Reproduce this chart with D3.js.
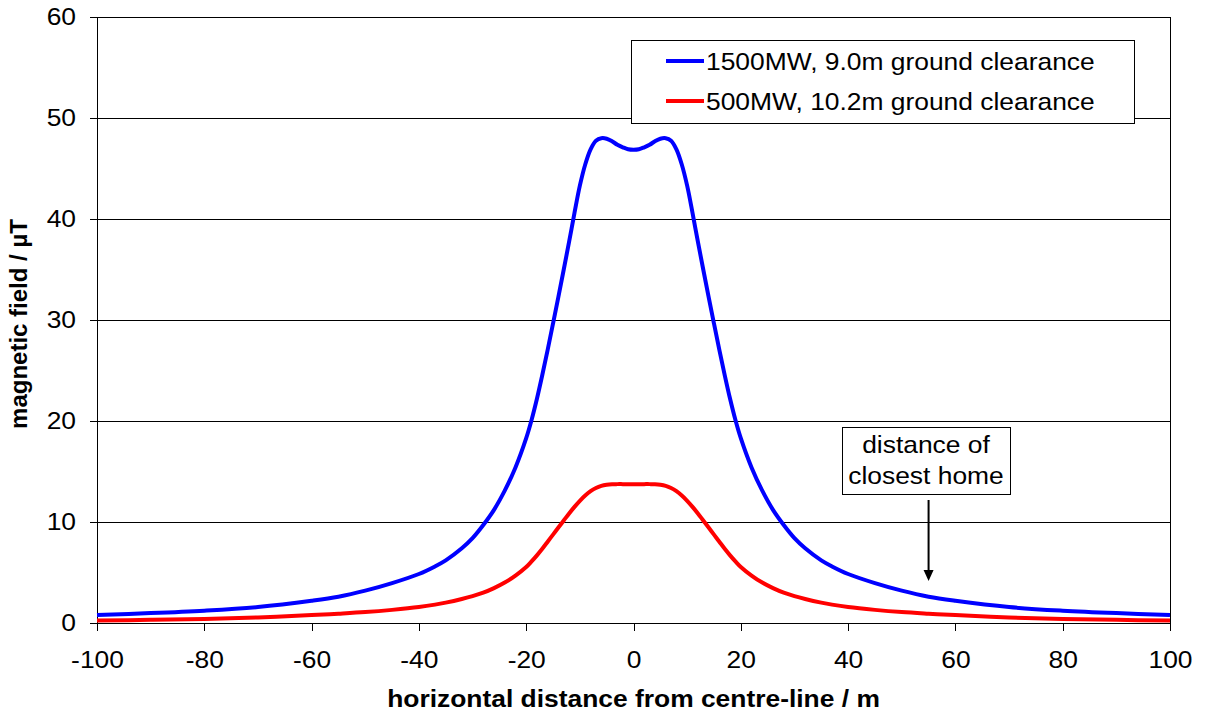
<!DOCTYPE html>
<html>
<head>
<meta charset="utf-8">
<script src="https://cdn.jsdelivr.net/npm/d3@7"></script>
<style>
  body { margin: 0; background: #fff; }
  #container { width: 1208px; height: 720px; }
  text { font-family: "Liberation Sans", Arial, sans-serif; fill: #000; }
</style>
</head>
<body>
<div id="container"></div>
<script>
const distances = [-100, -90, -80, -70, -60, -55, -50, -45, -40, -37, -35, -32, -30, -28, -26, -24, -22, -20, -19, -18, -17, -16, -15, -14, -13, -12, -11, -10, -9, -8, -7, -6, -5, -4, -3, -2, -1, 0,
  1, 2, 3, 4, 5, 6, 7, 8, 9, 10, 11, 12, 13, 14, 15, 16, 17, 18, 19, 20, 22, 24, 26, 28, 30, 32, 35, 37, 40, 45, 50, 55, 60, 70, 80, 90, 100];

// 1500MW, 9.0m ground clearance (µT)
const field_1500 = [0.8, 0.98, 1.22, 1.58, 2.2, 2.6, 3.2, 3.95, 4.85, 5.6, 6.2, 7.4, 8.4, 9.7, 11.2, 13.1, 15.4, 18.3, 20.1, 22.2, 24.55, 27.05, 29.65, 32.3, 35.0, 37.75, 40.6, 43.3, 45.4, 46.9, 47.75, 48.0, 47.95, 47.7, 47.35, 47.1, 46.9, 46.85,
  46.9, 47.1, 47.35, 47.7, 47.95, 48.0, 47.75, 46.9, 45.4, 43.3, 40.6, 37.75, 35.0, 32.3, 29.65, 27.05, 24.55, 22.2, 20.1, 18.3, 15.4, 13.1, 11.2, 9.7, 8.4, 7.4, 6.2, 5.6, 4.85, 3.95, 3.2, 2.6, 2.2, 1.58, 1.22, 0.98, 0.8];

// 500MW, 10.2m ground clearance (µT)
const field_500 = [0.25, 0.31, 0.4, 0.55, 0.78, 0.92, 1.08, 1.3, 1.58, 1.82, 2.02, 2.38, 2.66, 3.0, 3.45, 4.0, 4.7, 5.55, 6.1, 6.7, 7.35, 8.05, 8.75, 9.45, 10.15, 10.85, 11.5, 12.1, 12.62, 13.05, 13.37, 13.58, 13.69, 13.74, 13.75, 13.75, 13.75, 13.75,
  13.75, 13.75, 13.75, 13.74, 13.69, 13.58, 13.37, 13.05, 12.62, 12.1, 11.5, 10.85, 10.15, 9.45, 8.75, 8.05, 7.35, 6.7, 6.1, 5.55, 4.7, 4.0, 3.45, 3.0, 2.66, 2.38, 2.02, 1.82, 1.58, 1.3, 1.08, 0.92, 0.78, 0.55, 0.4, 0.31, 0.25];

const series_names = ["1500MW, 9.0m ground clearance", "500MW, 10.2m ground clearance"];
const series_colors = ["#0000ff", "#ff0000"];

const x_ticks = [-100, -80, -60, -40, -20, 0, 20, 40, 60, 80, 100];
const y_ticks = [0, 10, 20, 30, 40, 50, 60];

const home_distance = 55;
const home_label = ["distance of", "closest home"];

// the source picture has slightly wide lettering
const sx = 1.1;

function stretch(sel) {
  sel.each(function() {
    const t = d3.select(this);
    const x0 = +t.attr("x") || 0;
    t.attr("x", x0 / sx).attr("transform", "scale(" + sx + ",1)");
  });
}

function addText(parent, x, y, str, size, anchor, weight) {
  const g = parent.append("g").attr("transform", "translate(" + x + "," + y + ")");
  g.append("text")
    .attr("transform", "scale(" + sx + ",1)")
    .attr("text-anchor", anchor || "start")
    .attr("font-size", size)
    .attr("font-weight", weight || "normal")
    .text(str);
  return g;
}

function draw() {
  const W = 1208, H = 720;
  const margin = {top: 17, left: 97, bottom: 97, right: 38};
  const width = W - margin.left - margin.right,
        height = H - margin.top - margin.bottom;

  const svg = d3.select("#container").append("svg")
    .attr("width", W)
    .attr("height", H);

  const plot = svg.append("g")
    .attr("transform", "translate(" + margin.left + "," + margin.top + ")");

  const x = d3.scaleLinear().domain([-100, 100]).range([0, width]);
  const y = d3.scaleLinear().domain([0, 60]).range([height, 0]);

  // gridlines
  plot.append("g")
    .selectAll("line")
    .data(y_ticks.filter(d => d > 0))
    .enter()
    .append("line")
    .attr("x1", 0).attr("x2", width)
    .attr("y1", d => y(d)).attr("y2", d => y(d))
    .attr("stroke", "#000")
    .attr("stroke-width", 1)
    .attr("shape-rendering", "crispEdges");

  // right border
  plot.append("line")
    .attr("x1", width).attr("x2", width)
    .attr("y1", 0).attr("y2", height)
    .attr("stroke", "#000")
    .attr("shape-rendering", "crispEdges");

  // axes
  const xAxis = plot.append("g")
    .attr("transform", "translate(0," + height + ")")
    .call(d3.axisBottom(x).tickValues(x_ticks).tickFormat(d => String(d)).tickSize(8).tickPadding(20));
  const yAxis = plot.append("g")
    .call(d3.axisLeft(y).tickValues(y_ticks).tickFormat(d => String(d)).tickSize(7).tickPadding(14));

  [xAxis, yAxis].forEach(a => {
    a.select(".domain").attr("stroke", "#000").attr("shape-rendering", "crispEdges");
    a.selectAll(".tick line").attr("stroke", "#000").attr("shape-rendering", "crispEdges");
    a.selectAll("text")
      .attr("font-family", "Liberation Sans, Arial, sans-serif")
      .attr("font-size", 24)
      .attr("fill", "#000")
      .call(stretch);
  });

  // lines
  const line = d3.line()
    .x(d => x(d[0]))
    .y(d => y(d[1]))
    .curve(d3.curveCatmullRom.alpha(0.5));

  const series = [field_1500, field_500];
  series.forEach((vals, i) => {
    plot.append("path")
      .datum(distances.map((d, j) => [d, vals[j]]))
      .attr("d", line)
      .attr("fill", "none")
      .attr("stroke", series_colors[i])
      .attr("stroke-width", 4)
      .attr("stroke-linejoin", "round");
  });

  // legend
  const legend = svg.append("g");
  legend.append("rect")
    .attr("x", 631.5).attr("y", 40.5)
    .attr("width", 503).attr("height", 83)
    .attr("fill", "#fff")
    .attr("stroke", "#000")
    .attr("stroke-width", 1);

  series_names.forEach((name, i) => {
    const ly = 61 + i * 40;
    legend.append("line")
      .attr("x1", 666).attr("x2", 704)
      .attr("y1", ly).attr("y2", ly)
      .attr("stroke", series_colors[i])
      .attr("stroke-width", 4);
    addText(legend, 706, ly + 8.5, name, 24, "start");
  });

  // annotation
  const ax = margin.left + x(home_distance);
  const ann = svg.append("g");
  ann.append("rect")
    .attr("x", 842.5).attr("y", 427.5)
    .attr("width", 168).attr("height", 67)
    .attr("fill", "#fff")
    .attr("stroke", "#000");
  home_label.forEach((t, i) => {
    addText(ann, 926, 453 + i * 31, t, 24, "middle");
  });
  ann.append("line")
    .attr("x1", ax).attr("x2", ax)
    .attr("y1", 500).attr("y2", 572)
    .attr("stroke", "#000")
    .attr("stroke-width", 2);
  ann.append("path")
    .attr("d", d3.line()([[ax - 5, 570], [ax + 5, 570], [ax, 581]]))
    .attr("fill", "#000");

  // axis titles
  addText(svg, margin.left + width / 2, 707, "horizontal distance from centre-line / m", 24, "middle", "bold");

  svg.append("text")
    .attr("transform", "translate(27," + (margin.top + height / 2 + 4) + ") rotate(-90)")
    .attr("text-anchor", "middle")
    .attr("font-size", 24)
    .attr("font-weight", "bold")
    .text("magnetic field / µT");
}

window.addEventListener("load", draw);
</script>
</body>
</html>
